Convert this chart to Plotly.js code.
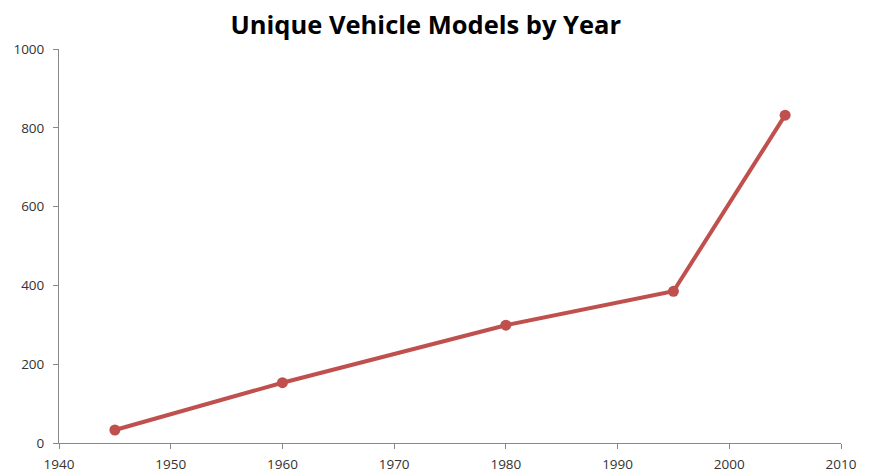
<!DOCTYPE html>
<html>
<head>
<meta charset="utf-8">
<script src="https://cdn.plot.ly/plotly-3.0.1.min.js"></script>
<style>html,body{margin:0;padding:0;background:#fff;}#chart{width:869px;height:476px;}</style>
</head>
<body>
<div id="chart"></div>
<script>
const years = [1945, 1960, 1980, 1995, 2005];
const models = [33, 153, 299, 385, 832];
const xTicks = [1940, 1950, 1960, 1970, 1980, 1990, 2000, 2010];
const yTicks = [0, 200, 400, 600, 800, 1000];

const trace = {
  x: years, y: models, type: 'scatter', mode: 'lines+markers',
  line: {color: '#C0504D', width: 4},
  marker: {color: '#C0504D', size: 11},
  hoverinfo: 'x+y'
};
const tickFont = {family: 'Open Sans, sans-serif', size: 13.5, color: '#333'};
const layout = {
  width: 869, height: 476,
  margin: {l: 59, r: 28, t: 49, b: 33},
  paper_bgcolor: '#ffffff', plot_bgcolor: '#ffffff',
  showlegend: false,
  title: {text: '<b>Unique Vehicle Models by Year</b>', x: 0.49, xanchor: 'center', y: 0.948, yanchor: 'middle',
    font: {family: 'Open Sans, Lato, sans-serif', size: 25.5, color: '#000'}},
  xaxis: {range: [1940, 2010], tickvals: xTicks, ticktext: xTicks.map(String), showgrid: false, zeroline: false,
    showline: true, linecolor: '#888', linewidth: 1, ticks: 'outside', ticklen: 5, tickcolor: '#888',
    ticklabelstandoff: 4, tickfont: tickFont},
  yaxis: {range: [0, 1000], tickvals: yTicks, ticktext: yTicks.map(String), showgrid: false, zeroline: false,
    showline: true, linecolor: '#888', linewidth: 1, ticks: 'outside', ticklen: 5, tickcolor: '#888',
    ticklabelstandoff: 6, tickfont: tickFont}
};
Plotly.newPlot('chart', [trace], layout, {displayModeBar: false, staticPlot: true});
</script>
</body>
</html>
